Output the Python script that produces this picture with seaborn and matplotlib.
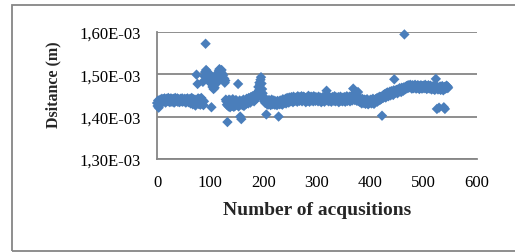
import matplotlib
matplotlib.use("Agg")
import matplotlib.pyplot as plt
import matplotlib.ticker as mticker
import numpy as np
import pandas as pd
import seaborn as sns

# distance per acquisition, in micrometres
dist_000_099 = [1432, 1425, 1438, 1421, 1435, 1428, 1440, 1430, 1436, 1442,
                1434, 1439, 1441, 1436, 1443, 1438, 1433, 1440, 1442, 1437,
                1439, 1444, 1436, 1441, 1434, 1440, 1443, 1438, 1435, 1441,
                1437, 1442, 1433, 1439, 1444, 1436, 1440, 1438, 1443, 1435,
                1441, 1437, 1434, 1440, 1442, 1436, 1439, 1443, 1435, 1438,
                1440, 1436, 1442, 1439, 1433, 1441, 1437, 1443, 1438, 1434,
                1440, 1436, 1442, 1431, 1439, 1444, 1437, 1429, 1441, 1435,
                1432, 1440, 1426, 1438, 1499, 1436, 1477, 1443, 1430, 1437,
                1441, 1428, 1435, 1444, 1431, 1439, 1482, 1427, 1436, 1495,
                1505, 1572, 1510, 1498, 1506, 1492, 1503, 1488, 1500, 1485]
dist_100_199 = [1495, 1478, 1422, 1482, 1470, 1488, 1465, 1475, 1468, 1480,
                1490, 1478, 1498, 1487, 1503, 1495, 1508, 1512, 1500, 1506,
                1497, 1510, 1502, 1492, 1498, 1485, 1490, 1480, 1485, 1440,
                1436, 1428, 1387, 1433, 1424, 1440, 1430, 1422, 1438, 1427,
                1434, 1425, 1441, 1429, 1423, 1437, 1431, 1426, 1439, 1433,
                1428, 1435, 1477, 1424, 1431, 1438, 1400, 1429, 1394, 1436,
                1427, 1432, 1440, 1425, 1434, 1429, 1437, 1430, 1442, 1433,
                1438, 1431, 1444, 1435, 1440, 1433, 1446, 1437, 1442, 1448,
                1439, 1445, 1436, 1450, 1441, 1447, 1452, 1443, 1449, 1458,
                1470, 1462, 1480, 1475, 1487, 1493, 1478, 1465, 1455, 1448]
dist_200_299 = [1442, 1436, 1440, 1432, 1438, 1405, 1430, 1437, 1428, 1434,
                1439, 1431, 1436, 1427, 1433, 1440, 1429, 1435, 1430, 1438,
                1432, 1428, 1436, 1430, 1434, 1427, 1437, 1431, 1400, 1435,
                1429, 1438, 1433, 1430, 1436, 1428, 1441, 1434, 1432, 1439,
                1435, 1442, 1431, 1438, 1444, 1436, 1440, 1433, 1445, 1438,
                1441, 1436, 1446, 1439, 1443, 1434, 1447, 1440, 1437, 1444,
                1438, 1445, 1441, 1435, 1448, 1440, 1443, 1437, 1446, 1439,
                1442, 1448, 1436, 1444, 1440, 1447, 1438, 1445, 1441, 1434,
                1443, 1439, 1446, 1437, 1449, 1441, 1435, 1444, 1440, 1447,
                1438, 1445, 1442, 1436, 1448, 1440, 1443, 1437, 1446, 1441]
dist_300_399 = [1439, 1444, 1436, 1447, 1441, 1438, 1445, 1440, 1434, 1443,
                1437, 1446, 1440, 1442, 1435, 1448, 1439, 1444, 1461, 1438,
                1445, 1440, 1436, 1447, 1442, 1438, 1444, 1435, 1441, 1446,
                1439, 1443, 1437, 1448, 1441, 1436, 1445, 1440, 1443, 1438,
                1446, 1434, 1442, 1439, 1447, 1437, 1444, 1440, 1436, 1445,
                1441, 1438, 1446, 1435, 1443, 1440, 1448, 1437, 1444, 1439,
                1442, 1447, 1436, 1444, 1440, 1449, 1438, 1443, 1466, 1441,
                1446, 1439, 1451, 1443, 1448, 1437, 1445, 1458, 1441, 1436,
                1444, 1434, 1440, 1437, 1431, 1442, 1435, 1438, 1432, 1440,
                1436, 1430, 1439, 1433, 1441, 1434, 1429, 1437, 1432, 1438]
dist_400_499 = [1435, 1440, 1431, 1437, 1433, 1442, 1436, 1430, 1439, 1434,
                1441, 1437, 1443, 1435, 1440, 1445, 1438, 1443, 1447, 1440,
                1446, 1442, 1402, 1449, 1444, 1451, 1447, 1453, 1448, 1445,
                1455, 1450, 1457, 1452, 1448, 1456, 1453, 1459, 1450, 1455,
                1460, 1454, 1458, 1451, 1462, 1488, 1456, 1461, 1457, 1463,
                1459, 1455, 1464, 1458, 1462, 1467, 1460, 1465, 1458, 1468,
                1463, 1466, 1461, 1469, 1594, 1464, 1470, 1466, 1472, 1467,
                1471, 1474, 1468, 1473, 1470, 1475, 1469, 1472, 1466, 1474,
                1470, 1467, 1473, 1469, 1475, 1471, 1466, 1472, 1468, 1474,
                1469, 1473, 1465, 1471, 1468, 1474, 1470, 1466, 1472, 1469]
dist_500_546 = [1473, 1467, 1470, 1475, 1468, 1472, 1465, 1471, 1469, 1474,
                1467, 1471, 1466, 1473, 1469, 1464, 1470, 1467, 1472, 1465,
                1469, 1463, 1471, 1489, 1467, 1418, 1470, 1464, 1468, 1421,
                1466, 1471, 1463, 1469, 1465, 1472, 1467, 1462, 1422, 1470,
                1418, 1466, 1469, 1473, 1467, 1471, 1468]

y_ticks = [1.30e-3, 1.40e-3, 1.50e-3, 1.60e-3]
x_ticks = [0, 100, 200, 300, 400, 500, 600]

dist_um = (dist_000_099 + dist_100_199 + dist_200_299 +
           dist_300_399 + dist_400_499 + dist_500_546)
df = pd.DataFrame({"n": np.arange(len(dist_um)),
                   "dist": np.array(dist_um) * 1e-6})

sns.set_style("white")
plt.rcParams["font.family"] = ["Liberation Serif", "DejaVu Serif"]

fig = plt.figure(figsize=(5.15, 2.53), dpi=100)
ax = fig.add_axes([0.305, 0.368, 0.621, 0.502])

grey = "#868686"
ax.set_axisbelow(True)
ax.yaxis.grid(True, color=grey, lw=1.3)

sns.scatterplot(data=df, x="n", y="dist", marker="D", s=28,
                color="#4a7ebb", edgecolor="none", linewidth=0, ax=ax,
                zorder=3, clip_on=False)

ax.set_xlim(0, 600)
ax.set_ylim(1.30e-3, 1.60e-3)
ax.set_xticks(x_ticks)
ax.set_yticks(y_ticks)
ax.yaxis.set_major_formatter(
    mticker.FuncFormatter(lambda v, p: f"{v:.2E}".replace(".", ",")))

for side in ["top", "right"]:
    ax.spines[side].set_visible(False)
for side in ["left", "bottom"]:
    ax.spines[side].set_color(grey)
    ax.spines[side].set_linewidth(1.3)

ax.tick_params(axis="both", which="major", direction="out", length=4,
               width=1.3, color=grey, labelsize=12, labelcolor="black")
ax.tick_params(axis="y", pad=8)
ax.tick_params(axis="x", pad=7)

ax.set_xlabel("Number of acqusitions", fontsize=14, fontweight="bold",
              labelpad=8)
ax.set_ylabel("Dsitance (m)", fontsize=11.5, fontweight="bold")
ax.yaxis.set_label_coords(-0.30, 0.59)

# chart frame
fig.patches.append(plt.Rectangle((12 / 515, 1 / 253), 1.0, 246 / 253,
                                 transform=fig.transFigure, fill=False,
                                 edgecolor=grey, lw=1.3))

fig.savefig("out.png", dpi=100)
